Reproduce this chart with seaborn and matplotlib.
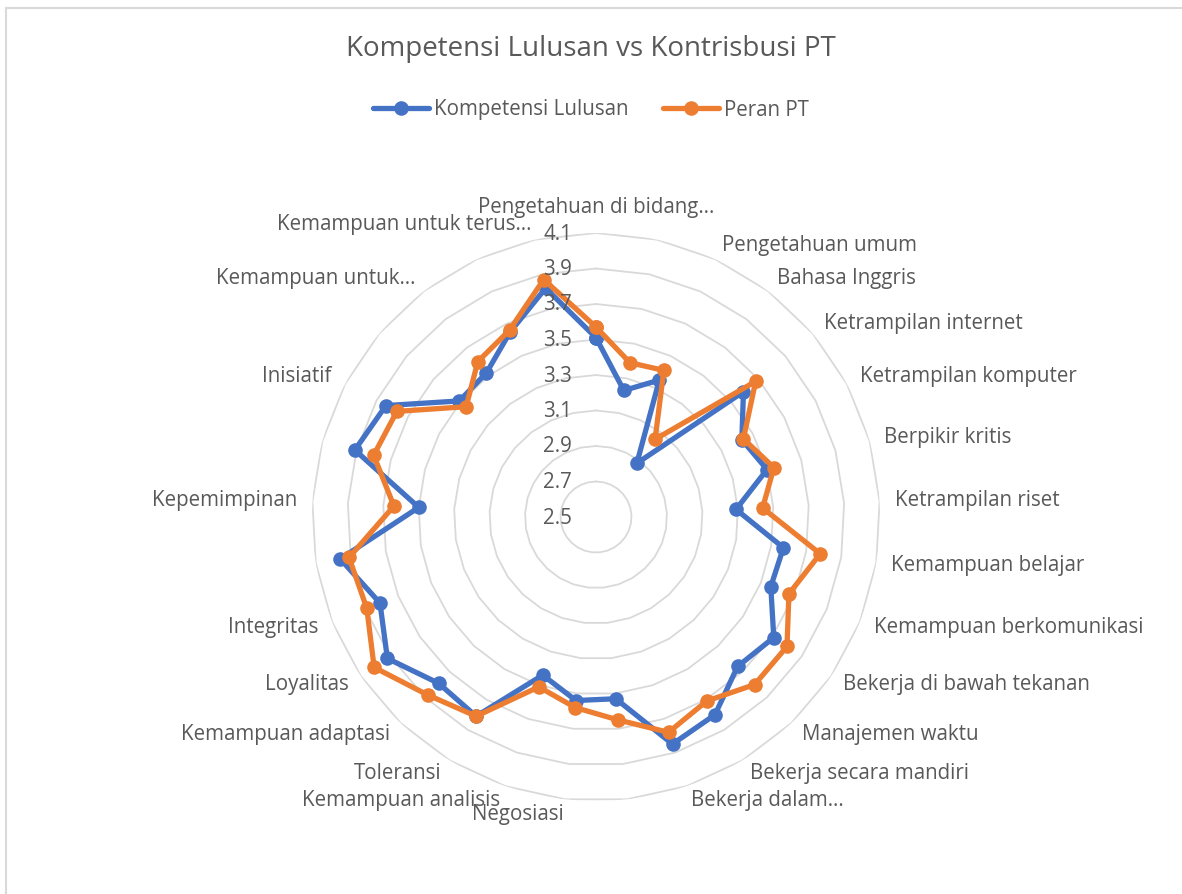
import numpy as np
import pandas as pd
import matplotlib
matplotlib.use("Agg")
import matplotlib.pyplot as plt
import seaborn as sns
from matplotlib.lines import Line2D
from matplotlib.transforms import offset_copy

# ---------------- data ----------------
categories = [
    "Pengetahuan di bidang atau disiplin ilmu anda",
    "Pengetahuan di luar bidang atau disiplin ilmu anda",
    "Pengetahuan umum",
    "Bahasa Inggris",
    "Ketrampilan internet",
    "Ketrampilan komputer",
    "Berpikir kritis",
    "Ketrampilan riset",
    "Kemampuan belajar",
    "Kemampuan berkomunikasi",
    "Bekerja di bawah tekanan",
    "Manajemen waktu",
    "Bekerja secara mandiri",
    "Bekerja dalam tim/bekerjasama dengan orang lain",
    "Kemampuan dalam memecahkan masalah",
    "Negosiasi",
    "Kemampuan analisis",
    "Toleransi",
    "Kemampuan adaptasi",
    "Loyalitas",
    "Integritas",
    "Bekerja dengan orang yang berbeda budaya maupun latar belakang",
    "Kepemimpinan",
    "Kemampuan dalam memegang tanggungjawab",
    "Inisiatif",
    "Manajemen proyek/program",
    "Kemampuan untuk memresentasikan ide/produk/laporan",
    "Kemampuan dalam menulis laporan, memo dan dokumen",
    "Kemampuan untuk terus belajar sepanjang hayat",
]

# labels as displayed on the chart (empty = hidden by overlap)
tick_labels = [
    "Pengetahuan di bidang…", "", "Pengetahuan umum", "Bahasa Inggris",
    "Ketrampilan internet", "Ketrampilan komputer", "Berpikir kritis",
    "Ketrampilan riset", "Kemampuan belajar", "Kemampuan berkomunikasi",
    "Bekerja di bawah tekanan", "Manajemen waktu", "Bekerja secara mandiri",
    "Bekerja dalam…", "", "Negosiasi", "Kemampuan analisis", "Toleransi",
    "Kemampuan adaptasi", "Loyalitas", "Integritas", "", "Kepemimpinan", "",
    "Inisiatif", "", "Kemampuan untuk…", "", "Kemampuan untuk terus…",
]

kompetensi_lulusan = [3.51, 3.23, 3.35, 2.88, 3.59, 3.43, 3.50, 3.29, 3.57, 3.56,
                      3.71, 3.66, 3.80, 3.85, 3.53, 3.54, 3.44, 3.81, 3.79, 3.92,
                      3.81, 3.96, 3.50, 3.91, 3.84, 3.51, 3.52, 3.65, 3.82]
peran_pt = [3.57, 3.39, 3.41, 3.05, 3.68, 3.44, 3.54, 3.44, 3.78, 3.67,
            3.80, 3.80, 3.71, 3.78, 3.65, 3.58, 3.51, 3.81, 3.88, 4.01,
            3.89, 3.91, 3.64, 3.80, 3.77, 3.46, 3.60, 3.66, 3.87]

series_names = ["Kompetensi Lulusan", "Peran PT"]
series_colors = ["#4472C4", "#ED7D31"]
r_ticks = [2.5, 2.7, 2.9, 3.1, 3.3, 3.5, 3.7, 3.9, 4.1]
title = "Kompetensi Lulusan vs Kontrisbusi PT"

# ---------------- style ----------------
sns.set_theme(style="white")
plt.rcParams['font.family'] = ['Open Sans', 'DejaVu Sans']
text_color = "#595959"
grid_color = "#D9D9D9"
fs = 14.8

W, H = 1182, 894
fig = plt.figure(figsize=(W / 100, H / 100), dpi=100)
fig.patch.set_facecolor("white")

cx, cy, R = 596, 517, 284
ax = fig.add_axes([(cx - R) / W, (H - cy - R) / H, 2 * R / W, 2 * R / H],
                  projection="polar")
ax.set_theta_offset(np.pi / 2)
ax.set_theta_direction(-1)

n = len(categories)
theta = np.arange(n) * 2 * np.pi / n
theta_closed = np.append(theta, 2 * np.pi)

# polygon gridlines
for v in r_ticks[1:]:
    ax.plot(theta_closed, [v] * (n + 1), color=grid_color, lw=1.3, zorder=1)

rows = []
for name, vals in zip(series_names, [kompetensi_lulusan, peran_pt]):
    vc = list(vals) + [vals[0]]
    for k, (t, v) in enumerate(zip(theta_closed, vc)):
        rows.append({"theta": t, "value": v, "series": name, "order": k})
df = pd.DataFrame(rows)

sns.lineplot(data=df, x="theta", y="value", hue="series", hue_order=series_names,
             palette=series_colors, estimator=None, sort=False, marker="o",
             markersize=10.5, markeredgewidth=0, linewidth=3.8, legend=False,
             ax=ax, zorder=3)

ax.set_ylim(r_ticks[0], r_ticks[-1])
ax.set_xticks([])
ax.set_yticks([])
ax.grid(False)
ax.spines["polar"].set_visible(False)
ax.set_xlabel("")
ax.set_ylabel("")
ax.set_facecolor("none")

# radial value labels
off = offset_copy(ax.transData, fig=fig, x=-24, y=-1, units="dots")
for v in r_ticks:
    ax.text(0, v, f"{v:.1f}", transform=off, ha="right", va="center",
            fontsize=fs, color=text_color, zorder=4)

# category labels
r_label = r_ticks[0] + 299 / R * (r_ticks[-1] - r_ticks[0])
for t, lab in zip(theta, tick_labels):
    if not lab:
        continue
    s, c = np.sin(t), np.cos(t)
    if abs(s) < 0.05:
        ha = "center"
        va = "bottom" if c > 0 else "top"
    else:
        ha = "left" if s > 0 else "right"
        va = "center"
    ax.text(t, r_label, lab, ha=ha, va=va, fontsize=fs, color=text_color,
            clip_on=False)

# title
fig.text(0.5, 1 - 49 / H, title, ha="center", va="center", fontsize=20,
         color=text_color)

# legend
handles = [Line2D([0], [0], color=c, lw=3.8, marker="o", markersize=10.5,
                  markeredgewidth=0) for c in series_colors]
fig.legend(handles, series_names, loc="center", bbox_to_anchor=(0.5, 1 - 110 / H),
           ncol=2, frameon=False, fontsize=fs, handlelength=2.75,
           handletextpad=0.25, columnspacing=1.65, labelcolor=text_color)

# chart border (left and top visible)
fig.add_artist(Line2D([6 / W, 6 / W], [0, 1 - 8 / H], transform=fig.transFigure,
                      color=grid_color, lw=1.5))
fig.add_artist(Line2D([6 / W, 1], [1 - 8 / H, 1 - 8 / H], transform=fig.transFigure,
                      color=grid_color, lw=1.5))

fig.savefig("out.png", dpi=100, facecolor="white")
